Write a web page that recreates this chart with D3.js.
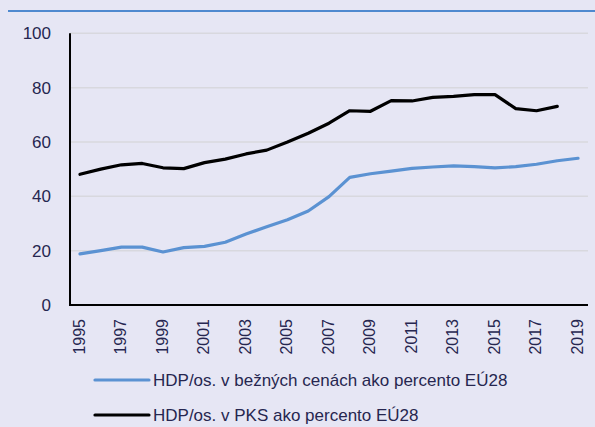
<!DOCTYPE html>
<html>
<head>
<meta charset="utf-8">
<script src="https://cdn.jsdelivr.net/npm/d3@7"></script>
<style>
  body { margin: 0; background: #E6E6F4; }
  svg { display: block; font-family: "Liberation Sans", Arial, sans-serif; }
</style>
</head>
<body>
<div id="chart"></div>
<script>
// Years and the two series (HDP per capita as % of EU28)
const years = d3.range(1995, 2020)
const currentPrices = [18.8, 20.0, 21.3, 21.3, 19.5, 21.1, 21.6, 23.1, 26.1, 28.8, 31.4, 34.6, 39.9, 47.0, 48.3, 49.3, 50.3, 50.8, 51.2, 50.9, 50.5, 50.9, 51.8, 53.1, 54.0]
const pps = [48.1, 50.0, 51.6, 52.1, 50.5, 50.2, 52.4, 53.7, 55.6, 57.0, 60.0, 63.2, 66.9, 71.5, 71.3, 75.2, 75.1, 76.4, 76.8, 77.4, 77.4, 72.3, 71.5, 73.1, null]
const yTicks = [0, 20, 40, 60, 80, 100]
const xTickYears = years.filter(y => y % 2 === 1)
const seriesNames = ['HDP/os. v bežných cenách ako percento EÚ28', 'HDP/os. v PKS ako percento EÚ28']
const seriesColors = ['#5B92D2', '#000000']

const W = 595, H = 427
const textColor = '#262650'

const svg = d3.select('#chart').append('svg')
    .attr('width', W)
    .attr('height', H)

// top accent rule
svg.append('line')
    .attr('x1', 8).attr('x2', W)
    .attr('y1', 11).attr('y2', 11)
    .attr('stroke', '#4F89CF')
    .attr('stroke-width', 2)

const x = d3.scaleLinear().domain([1995, 2019]).range([80, 578])
const y = d3.scaleLinear().domain([0, 100]).range([305, 33.3])

// gridlines
svg.append('g')
    .selectAll('line')
    .data(yTicks.filter(t => t > 0))
    .join('line')
    .attr('x1', 70).attr('x2', 588)
    .attr('y1', d => y(d)).attr('y2', d => y(d))
    .attr('stroke', '#D8D8DE')
    .attr('stroke-width', 1.5)

// y axis labels
svg.append('g')
    .selectAll('text')
    .data(yTicks)
    .join('text')
    .attr('x', 51)
    .attr('y', d => y(d))
    .attr('dy', '0.35em')
    .attr('text-anchor', 'end')
    .attr('font-size', 17)
    .attr('fill', textColor)
    .text(d => d)

// x axis labels (rotated)
svg.append('g')
    .selectAll('text')
    .data(xTickYears)
    .join('text')
    .attr('transform', d => `translate(${x(d) - 1},319) rotate(-90)`)
    .attr('text-anchor', 'end')
    .attr('dy', '0.35em')
    .attr('font-size', 16)
    .attr('fill', textColor)
    .text(d => d)

// axes lines
svg.append('path')
    .attr('d', `M${70},${y(100)}V${y(0)}H${588}`)
    .attr('fill', 'none')
    .attr('stroke', '#000')
    .attr('stroke-width', 2)

const line = d3.line()
    .defined(d => d[1] != null)
    .x(d => x(d[0]))
    .y(d => y(d[1]))

const series = [currentPrices, pps]
series.forEach((vals, i) => {
    svg.append('path')
        .datum(years.map((yr, j) => [yr, vals[j]]))
        .attr('d', line)
        .attr('fill', 'none')
        .attr('stroke', seriesColors[i])
        .attr('stroke-width', 3.2)
        .attr('stroke-linejoin', 'round')
        .attr('stroke-linecap', 'round')
})

// legend
const legend = svg.append('g')
    .selectAll('g')
    .data(seriesNames)
    .join('g')
    .attr('transform', (d, i) => `translate(95,${380 + i * 35})`)

legend.append('line')
    .attr('x1', 0).attr('x2', 54)
    .attr('stroke', (d, i) => seriesColors[i])
    .attr('stroke-width', 3.2)
    .attr('stroke-linecap', 'round')

legend.append('text')
    .attr('x', 58)
    .attr('dy', '0.35em')
    .attr('font-size', 17)
    .attr('fill', textColor)
    .text(d => d)
</script>
</body>
</html>
